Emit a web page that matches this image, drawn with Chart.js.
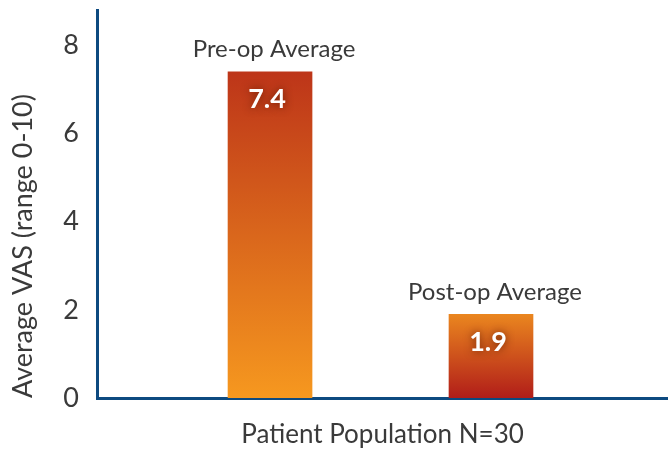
<!DOCTYPE html>
<html>
<head>
<meta charset="utf-8">
<script src="https://cdn.jsdelivr.net/npm/chart.js@4/dist/chart.umd.min.js"></script>
<style>
html,body{margin:0;padding:0;background:#fff;}
#wrap{width:668px;height:450px;}
</style>
</head>
<body>
<div id="wrap"><canvas id="c" width="668" height="450"></canvas></div>
<script>
const categories = ['Pre-op Average', 'Post-op Average'];
const values = [7.4, 1.9];
const valueLabels = ['7.4', '1.9'];
const yTicks = [0, 2, 4, 6, 8];
const yTitle = 'Average VAS (range 0-10)';
const xTitle = 'Patient Population N=30';

const gradStops = [
  ['#bd3519', '#f6981f'],
  ['#ea861f', '#b11d19']
];

const AXIS = '#0d4a80';
const TEXT = '#3a3a3a';

function barFill(ctx) {
  const chart = ctx.chart;
  if (!chart.chartArea) return gradStops[ctx.dataIndex][1];
  const y = chart.scales.y;
  const top = y.getPixelForValue(values[ctx.dataIndex]);
  const bot = y.getPixelForValue(0);
  const g = chart.ctx.createLinearGradient(0, top, 0, bot);
  g.addColorStop(0, gradStops[ctx.dataIndex][0]);
  g.addColorStop(1, gradStops[ctx.dataIndex][1]);
  return g;
}

const labelPlugin = {
  id: 'barLabels',
  afterDatasetsDraw(chart) {
    const c = chart.ctx;
    const meta = chart.getDatasetMeta(0);
    meta.data.forEach((bar, i) => {
      c.save();
      c.textAlign = 'center';
      c.textBaseline = 'middle';
      c.fillStyle = TEXT;
      c.font = '400 24px Lato';
      c.fillText(categories[i], bar.x + 4, bar.y - 22);
      c.font = '700 27px Lato';
      c.shadowColor = 'rgba(90,25,0,0.9)';
      c.shadowBlur = 8;
      c.fillStyle = '#ffffff';
      c.fillText(valueLabels[i], bar.x - 3, bar.y + 28);
      c.restore();
    });
  }
};

new Chart(document.getElementById('c'), {
  type: 'bar',
  data: {
    datasets: [{
      data: values.map((v, i) => ({ x: i + 1, y: v })),
      backgroundColor: barFill,
      borderWidth: 0,
      barThickness: 84
    }]
  },
  options: {
    responsive: false,
    animation: false,
    devicePixelRatio: 1,
    layout: { padding: { top: 10, right: 0, left: 0, bottom: 0 } },
    plugins: { legend: { display: false }, tooltip: { enabled: false } },
    scales: {
      x: {
        type: 'linear',
        offset: false,
        min: 0.217,
        max: 2.801,
        grid: { display: false, offset: false },
        border: { display: true, color: AXIS, width: 3 },
        ticks: { display: false },
        title: { display: true, text: xTitle, color: TEXT, font: { family: 'Lato', size: 26 }, padding: 0 },
        afterFit(scale) { scale.height = 52; scale.paddingLeft = 0; scale.paddingRight = 0; }
      },
      y: {
        min: 0,
        max: 8.8,
        grid: { display: false },
        border: { display: true, color: AXIS, width: 3 },
        ticks: { color: TEXT, font: { family: 'Lato', size: 27 }, padding: 10 },
        afterBuildTicks(scale) { scale.ticks = yTicks.map(v => ({ value: v })); },
        title: { display: true, text: yTitle, color: TEXT, align: 'start', font: { family: 'Lato', size: 27 }, padding: { top: 7, bottom: 0 } },
        afterFit(scale) { scale.width = 97; scale.paddingTop = 0; scale.paddingBottom = 0; }
      }
    }
  },
  plugins: [labelPlugin]
});
</script>
</body>
</html>
